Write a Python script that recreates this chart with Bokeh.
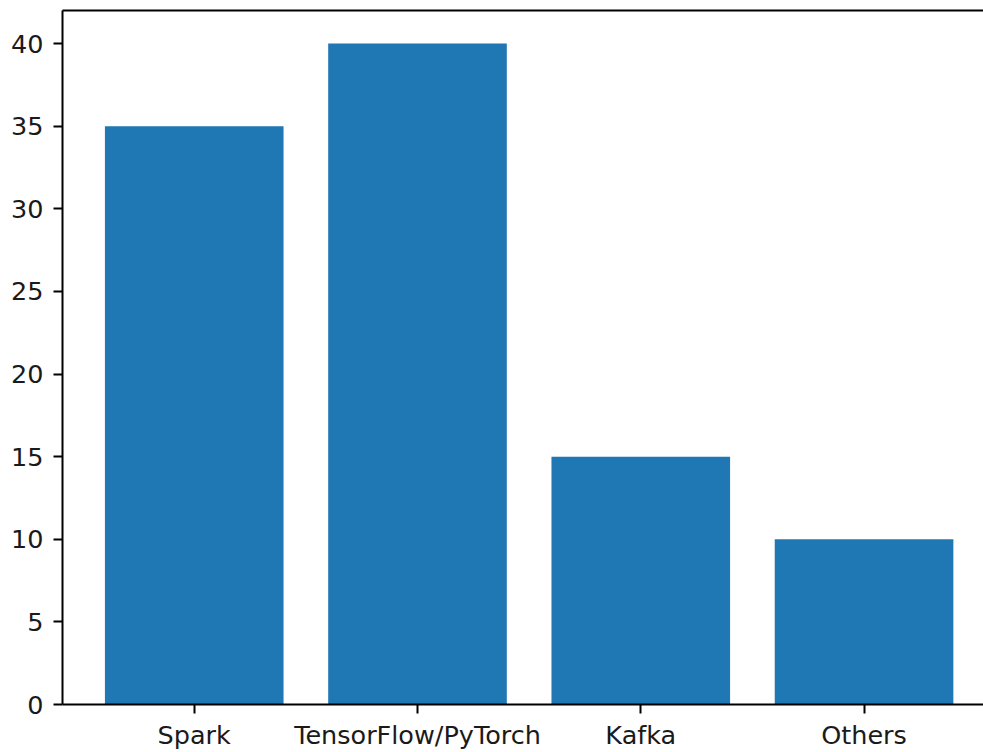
from bokeh.plotting import figure
from bokeh.models import Range1d, FixedTicker, LinearAxis, ColumnDataSource
from bokeh.embed import file_html
from bokeh.resources import INLINE

categories = ["Spark", "TensorFlow/PyTorch", "Kafka", "Others"]
values = [35, 40, 15, 10]
y_ticks = [0, 5, 10, 15, 20, 25, 30, 35, 40]

positions = list(range(len(categories)))
source = ColumnDataSource(data=dict(x=positions, top=values, name=categories))

FONT = "DejaVu Sans"
FSIZE = "25.5px"

p = figure(
    frame_width=921, frame_height=694,
    min_border_left=62, min_border_right=0, min_border_top=10, min_border_bottom=48,
    x_range=Range1d(-0.59, 3.535), y_range=Range1d(0, 42),
    output_backend="svg", toolbar_location=None,
    x_axis_location="below", y_axis_location="left",
)
p.vbar(x="x", top="top", bottom=0, width=0.8, source=source,
       fill_color="#1f77b4", line_color=None)

p.xgrid.visible = False
p.ygrid.visible = False
p.outline_line_color = None
p.background_fill_color = "white"
p.border_fill_color = "white"

p.xaxis.ticker = FixedTicker(ticks=positions)
p.xaxis.major_label_overrides = {i: c for i, c in enumerate(categories)}
p.yaxis.ticker = FixedTicker(ticks=y_ticks)

for ax in (p.xaxis[0], p.yaxis[0]):
    ax.axis_line_color = "black"
    ax.axis_line_width = 2
    ax.major_tick_line_color = "black"
    ax.major_tick_line_width = 2
    ax.major_tick_out = 9
    ax.major_tick_in = 0
    ax.minor_tick_line_color = None
    ax.major_label_text_font = FONT
    ax.major_label_text_font_size = FSIZE
    ax.major_label_text_color = "#1a1a1a"
p.xaxis.major_label_standoff = 6
p.yaxis.major_label_standoff = 10

top_axis = LinearAxis(ticker=FixedTicker(ticks=[]), axis_line_color="black",
                      axis_line_width=2, major_tick_line_color=None,
                      minor_tick_line_color=None, major_label_text_font_size="0px",
                      major_label_standoff=0, major_tick_out=0, major_tick_in=0)
p.add_layout(top_axis, "above")

open("out.html", "w").write(file_html(p, INLINE))
